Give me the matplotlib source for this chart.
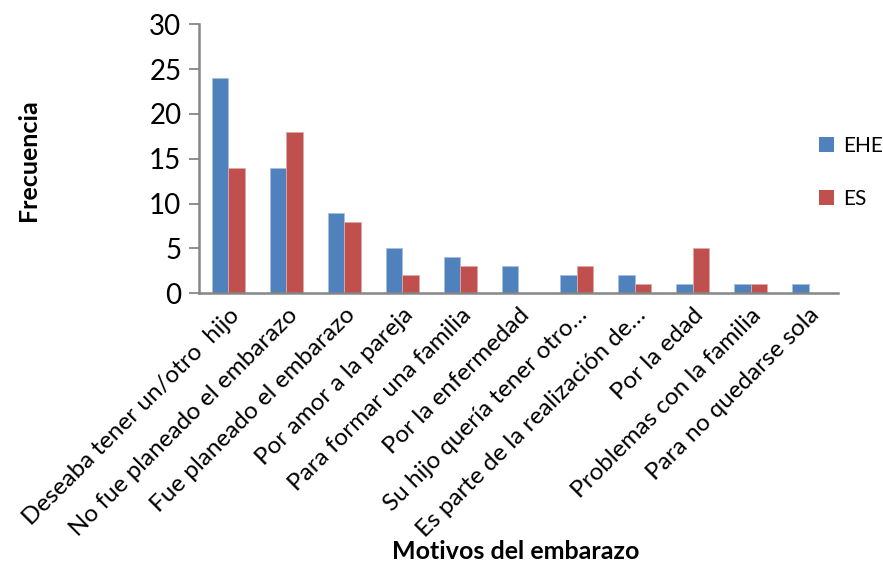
import numpy as np
import matplotlib.pyplot as plt
from matplotlib.patches import Patch

plt.rcParams['font.family'] = ['Lato', 'DejaVu Sans']

motivos = ['Deseaba tener un/otro  hijo', 'No fue planeado el embarazo',
           'Fue planeado el embarazo', 'Por amor a la pareja',
           'Para formar una familia', 'Por la enfermedad',
           'Su hijo quería tener otro…', 'Es parte de la realización de…',
           'Por la edad', 'Problemas con la familia', 'Para no quedarse sola']
ehe = [24, 14, 9, 5, 4, 3, 2, 2, 1, 1, 1]
es = [14, 18, 8, 2, 3, 0, 3, 1, 5, 1, 0]

azul = '#4F81BD'
rojo = '#C0504D'
gris = '#868686'

fig = plt.figure(figsize=(8.83, 5.65), dpi=100)
ax = fig.add_axes([0.2259, 0.481, 0.7226, 0.476])

x = np.arange(len(motivos))
w = 1 / 3.5
ax.bar(x - w / 2, ehe, w, color=azul, edgecolor='#A7C0DE', linewidth=0.6, label='EHE')
ax.bar(x + w / 2, es, w, color=rojo, edgecolor='#E0A9A8', linewidth=0.6, label='ES')

ax.set_xlim(-0.5, len(motivos) - 0.5)
ax.set_ylim(0, 30)
ax.set_yticks(range(0, 31, 5))
ax.tick_params(axis='y', labelsize=20, length=7, width=1.3, color=gris, pad=6)
ax.tick_params(axis='x', length=0, pad=8)
ax.set_xticks(x)
ax.set_xticklabels(motivos, rotation=45, ha='right', rotation_mode='anchor',
                   fontsize=17.5)

for s in ['top', 'right']:
    ax.spines[s].set_visible(False)
for s in ['left', 'bottom']:
    ax.spines[s].set_color(gris)
    ax.spines[s].set_linewidth(1.8)

fig.text(0.032, 0.717, 'Frecuencia', rotation=90, ha='center', va='center',
         fontsize=18, fontweight='bold')
fig.text(0.584, 0.024, 'Motivos del embarazo', ha='center', va='center',
         fontsize=18, fontweight='bold')

handles = [Patch(facecolor=azul, label='EHE'), Patch(facecolor=rojo, label='ES')]
fig.legend(handles=handles, loc='center left', bbox_to_anchor=(0.927, 0.695),
           frameon=False, fontsize=15, handlelength=0.75, handleheight=0.75,
           handletextpad=0.45, labelspacing=1.6, borderaxespad=0, borderpad=0)

fig.savefig('out.png', dpi=100)
